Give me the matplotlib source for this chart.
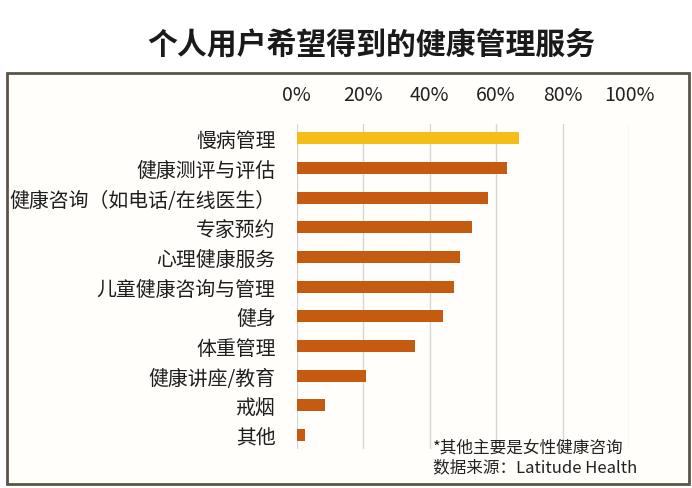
import matplotlib.pyplot as plt
from matplotlib.patches import Rectangle

plt.rcParams['font.family'] = ['Noto Sans CJK SC', 'DejaVu Sans']

# Data
services = ["慢病管理", "健康测评与评估", "健康咨询（如电话/在线医生）", "专家预约",
            "心理健康服务", "儿童健康咨询与管理", "健身", "体重管理",
            "健康讲座/教育", "戒烟", "其他"]
shares = [0.67, 0.634, 0.577, 0.527, 0.492, 0.474, 0.442, 0.356, 0.209, 0.085, 0.027]
x_ticks = [0, 0.2, 0.4, 0.6, 0.8, 1.0]
x_labels = ["0%", "20%", "40%", "60%", "80%", "100%"]

yellow = "#F5BD18"
brown = "#C55A11"
colors = [yellow] + [brown] * (len(services) - 1)

fig = plt.figure(figsize=(6.92, 4.89), dpi=100)
fig.patch.set_facecolor("white")

# outer frame
frame = Rectangle((0.0101, 0.0082), 0.9855, 0.8405, transform=fig.transFigure,
                  facecolor="#fffefb", edgecolor="#5b5546", linewidth=2, zorder=-1)
fig.patches.append(frame)

ax = fig.add_axes([0.4285, 0.0798, 0.4805, 0.664])
ax.set_facecolor("none")
ypos = list(range(len(services)))
ax.barh(ypos, shares, height=0.4, color=colors, zorder=3)

ax.set_xlim(0, 1.0)
ax.set_ylim(len(services) - 0.53, -0.47)
ax.set_xticks(x_ticks)
ax.set_xticklabels(x_labels, fontsize=14, color="#222222")
ax.set_yticks(ypos)
ax.set_yticklabels(services, fontsize=14.3, color="#1e1e1e")
ax.tick_params(axis="x", top=True, labeltop=True, bottom=False, labelbottom=False,
               length=0, pad=14)
ax.tick_params(axis="y", length=0, pad=15)
for s in ax.spines.values():
    s.set_visible(False)
ax.grid(axis="x", color="#d6d6d6", linewidth=1, zorder=0)
ax.grid(axis="y", visible=False)

fig.text(0.536, 1 - 45 / 489, "个人用户希望得到的健康管理服务", fontsize=21.5,
         fontweight="bold", ha="center", va="center", color="#1a1a1a")
fig.text(433 / 692, 1 - 448 / 489, "*其他主要是女性健康咨询", fontsize=12,
         ha="left", va="center", color="#222222")
fig.text(433 / 692, 1 - 468 / 489, "数据来源：Latitude Health", fontsize=12,
         ha="left", va="center", color="#222222")

plt.savefig("out.png", dpi=100)
